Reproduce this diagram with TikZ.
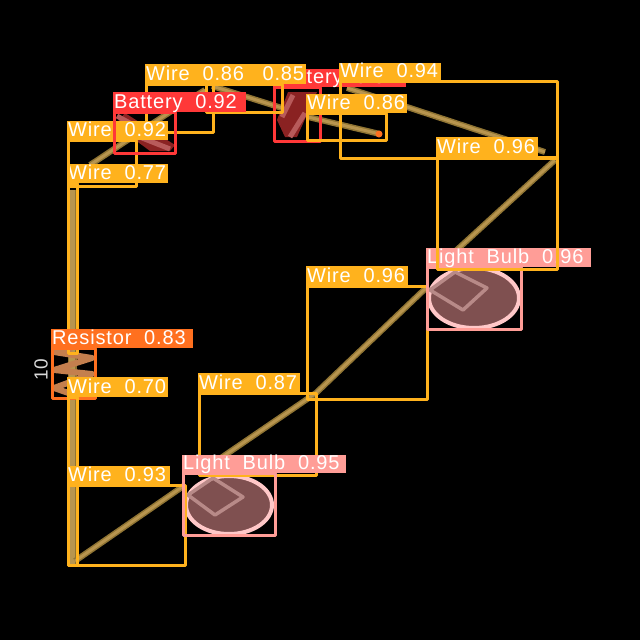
\documentclass[tikz,border=0pt]{standalone}
\usepackage{fontspec}
\setmainfont{Liberation Sans}[LetterSpace=4.2,WordSpace=2.0]
\definecolor{wirec}{HTML}{FFB21D}
\definecolor{battc}{HTML}{FF3838}
\definecolor{resc}{HTML}{FF701F}
\definecolor{bulbc}{HTML}{FF9D97}
\definecolor{tanc}{HTML}{B8954F}
\definecolor{tand}{HTML}{8F7433}
\definecolor{bulbd}{HTML}{7F5050}
\definecolor{bulbe}{HTML}{FFC8C8}
\definecolor{bulbf}{HTML}{B88A88}
\definecolor{battd}{HTML}{8A2222}
\definecolor{batte}{HTML}{B85A5A}
\definecolor{resd}{HTML}{C47F4E}
\tikzset{
	detbox/.style={line width=3pt,line join=round},
	detlab/.style={anchor=base west,inner xsep=1.5pt,inner ysep=0pt,text=white,align=left,font=\fontsize{20}{20}\selectfont},
	wireline/.style={tand,line width=6pt},
	wiretop/.style={tanc,line width=3pt},
	bulbbody/.style={fill=bulbd,draw=bulbe,line width=4pt},
	bulbmark/.style={draw=bulbf,line width=3.5pt,line join=round}
}
% colour, box corners, right end of label, label top, label name, text
\newcommand{\detect}[9]{%
	\draw[detbox,#1] (#2,#3) rectangle (#4,#5);
	\fill[#1] (#2-1.5,#3) rectangle (#6,#7);
	\node[detlab] (#8) at (#2-1.5,#3-4) {#9};
}
\begin{document}
\begin{tikzpicture}[x=1pt,y=-1pt]
	\useasboundingbox (0,0) rectangle (640,640);
	\fill[black] (0,0) rectangle (640,640);
	% wires
	\draw[wireline,line width=9pt] (72,190)--(72,565);
	\draw[wiretop,line width=6pt] (72,190)--(72,565);
	\foreach \p in {{(75,561)--(185,485)},{(215,462)--(316,393)--(427,287)},{(448,258)--(555,160)},{(90,165)--(173,110)--(205,90)},{(212,86)--(282,108)},{(347,88)--(407,107)--(477,130)--(545,152)},{(308,117)--(380,134)}}{
		\draw[wireline] \p;
		\draw[wiretop] \p;
	}
	\fill[resc] (379,134) circle (3.5pt);
	% batteries
	\fill[battd] (115,125)--(125,113)--(175,145)--(170,151)--(150,151)--cycle;
	\draw[batte,line width=5pt] (117,116)--(137,127);
	\draw[batte,line width=5pt] (137,136)--(170,149);
	\fill[battd] (277,120)--(288,92)--(317,92)--(297,137)--(285,137)--cycle;
	\draw[batte,line width=5pt] (293,95)--(282,117);
	\draw[batte,line width=5pt] (305,113)--(290,137);
	% resistor
	\draw[resd,line width=6pt,line join=round] (72,348)--(54,352)--(92,358)--(54,370)--(92,374)--(54,388)--(80,397);
	% bulbs
	\draw[bulbbody] (229,505) ellipse (43 and 29);
	\draw[bulbmark] (188,495)--(213,478)--(243,497)--(215,515)--cycle;
	\draw[bulbbody] (474,298) ellipse (45 and 30);
	\draw[bulbmark] (430,290)--(455,272)--(487,288)--(463,310)--cycle;
	\node[white!85!black,rotate=90,font=\fontsize{19}{19}\selectfont] (value) at (41,370) {10};
	% detections
	\detect{wirec}{68}{183}{77}{353}{168}{164}{lwa}{Wire 0.77}
	\detect{resc}{52}{348}{95}{398}{193}{329}{lres}{Resistor 0.83}
	\detect{wirec}{68}{397}{77}{565}{168}{377}{lwc}{Wire 0.70}
	\detect{wirec}{68}{485}{185}{565}{170}{466}{lwd}{Wire 0.93}
	\detect{wirec}{199}{393}{316}{475}{300}{373}{lwe}{Wire 0.87}
	\detect{bulbc}{183}{473}{275}{535}{346}{455}{lba}{Light Bulb 0.95}
	\detect{wirec}{307}{286}{427}{399}{408}{266}{lwf}{Wire 0.96}
	\detect{bulbc}{427}{267}{521}{329}{591}{248}{lbb}{Light Bulb 0.96}
	\detect{wirec}{437}{157}{557}{269}{538}{137}{lwg}{Wire 0.96}
	\detect{battc}{274}{87}{320}{141}{406}{69}{lbd}{Battery 0.84}
	\detect{wirec}{206}{84}{282}{112}{306}{64}{lwj}{Wire 0.85}
	\detect{wirec}{146}{84}{213}{132}{250}{64}{lwi}{Wire 0.86}
	\detect{wirec}{68}{140}{136}{186}{168}{121}{lwh}{Wire 0.92}
	\detect{battc}{114}{112}{175}{153}{246}{92}{lbc}{Battery 0.92}
	\detect{wirec}{340}{81}{557}{158}{441}{63}{lwk}{Wire 0.94}
	\detect{wirec}{307}{113}{386}{140}{407}{94}{lwl}{Wire 0.86}
\end{tikzpicture}
\end{document}
